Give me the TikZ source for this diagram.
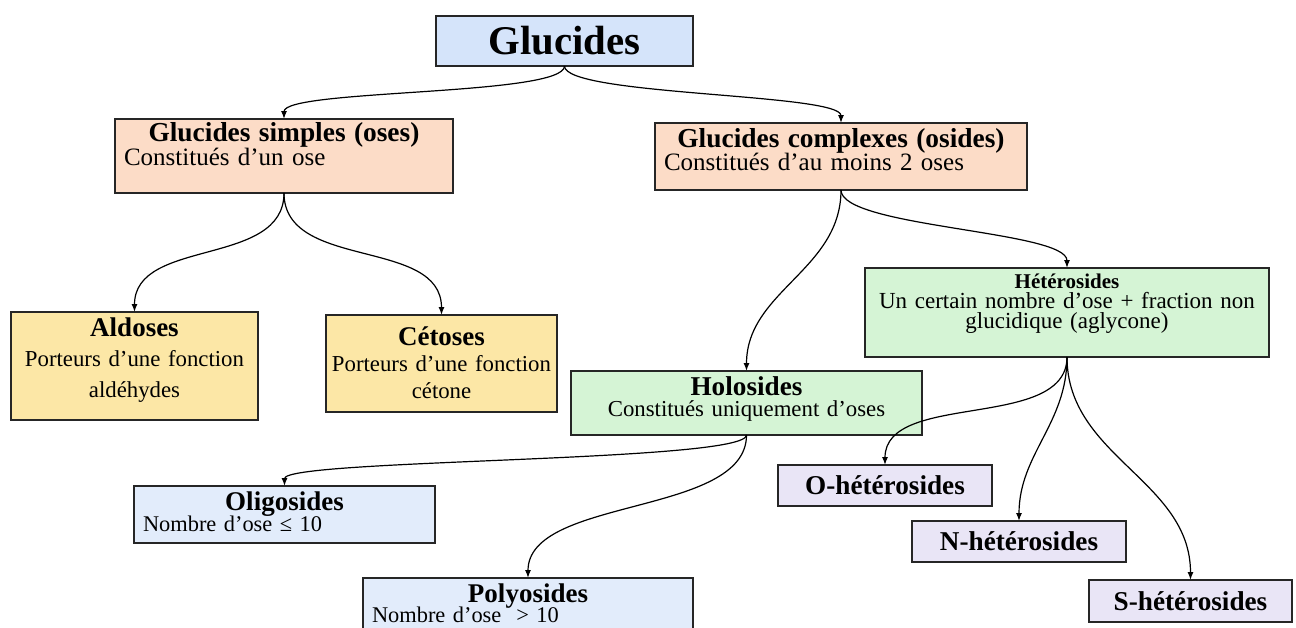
\documentclass[tikz,border=0pt]{standalone}
\usepackage{fontspec}
\setmainfont{Liberation Serif}
\usetikzlibrary{arrows.meta}

\newcommand{\sz}[2]{\fontsize{#1}{#2}\selectfont\lineskiplimit=-20pt\relax}
\newcommand{\ttl}[1]{\makebox[\linewidth]{\bfseries #1}}

\definecolor{topblue}{HTML}{D5E4FA}
\definecolor{peach}{HTML}{FCDCC7}
\definecolor{sand}{HTML}{FCE7A6}
\definecolor{mint}{HTML}{D5F4D5}
\definecolor{iceblue}{HTML}{E2ECFB}
\definecolor{lilac}{HTML}{E9E5F6}

\begin{document}
\begin{tikzpicture}[x=0.5pt, y=-0.5pt,
  box/.style={draw=black!85, line width=0.7pt, anchor=north west, inner xsep=2pt, inner ysep=0pt, outer sep=0pt, align=center},
  lbox/.style={box, inner xsep=4.5pt, align=left},
  link/.style={-{Latex[length=4pt,width=3pt]}, line width=0.6pt, out=-90, in=90}]
\useasboundingbox (0,0) rectangle (1296,627);
\clip (0,0) rectangle (1296,627);

% top
\node[box, fill=topblue, minimum width=128.5pt, minimum height=25pt, font=\sz{20.4}{24}\bfseries] (glu) at (436,16) {Glucides};

% two families
\node[lbox, fill=peach, text width=160pt, text height=11pt, text depth=26pt, font=\sz{12.5}{12.2}] (simple) at (115,119)
  {{\sz{13.7}{12.2}\ttl{Glucides simples (oses)}}\\ Constitués d’un ose};
\node[lbox, fill=peach, text width=177pt, text height=12pt, text depth=21.5pt, font=\sz{12.5}{11.8}] (complex) at (655,123)
  {{\sz{13.7}{11.8}\ttl{Glucides complexes (osides)}}\\ Constitués d’au moins 2 oses};

% oses
\node[box, fill=sand, text width=119.5pt, text height=12pt, text depth=42pt, font=\sz{11.4}{15.25}] (aldo) at (11,312)
  {{\sz{13.5}{15.25}\bfseries Aldoses}\\ Porteurs d’une fonction\\ aldéhydes};
\node[box, fill=sand, text width=111.5pt, text height=15pt, text depth=33.5pt, font=\sz{11.4}{13.25}] (ceto) at (326,315)
  {{\sz{13.5}{13.25}\bfseries Cétoses}\\ Porteurs d’une fonction\\ cétone};

% osides
\node[box, fill=mint, text width=171.5pt, text height=12pt, text depth=20pt, font=\sz{11.4}{10.6}] (holo) at (571,371)
  {{\sz{13.6}{10.6}\bfseries Holosides}\\ Constitués uniquement d’oses};
\node[box, fill=mint, text width=198pt, text height=10pt, text depth=34.5pt, font=\sz{11.5}{10.2}] (hetero) at (865,268)
  {{\sz{10.5}{10.2}\bfseries Hétérosides}\\ Un certain nombre d’ose + fraction non\\ glucidique (aglycone)};

% holosides
\node[lbox, fill=iceblue, text width=141.5pt, text height=12pt, text depth=16.5pt, font=\sz{11.2}{10.5}] (oligo) at (134,486)
  {{\sz{13.5}{10.5}\ttl{Oligosides}}\\ Nombre d’ose ≤ 10};
\node[lbox, fill=iceblue, text width=156pt, text height=12pt, text depth=19pt, font=\sz{11.2}{10.2}] (poly) at (363,578)
  {{\sz{13.5}{10.2}\ttl{Polyosides}}\\ Nombre d’ose~ > 10};

% heterosides
\node[box, fill=lilac, minimum width=107pt, minimum height=20.5pt, font=\sz{13.6}{16}\bfseries] (oh) at (778,465) {O-hétérosides};
\node[box, fill=lilac, minimum width=107pt, minimum height=20.5pt, font=\sz{13.6}{16}\bfseries] (nh) at (912,521) {N-hétérosides};
\node[box, fill=lilac, minimum width=101.5pt, minimum height=21pt, font=\sz{13.6}{16}\bfseries] (sh) at (1089,580) {S-hétérosides};

\draw[link, looseness=0.27] (glu.south) to (simple.north);
\draw[link, looseness=0.27] (glu.south) to (complex.north);
\draw[link] (simple.south) to (aldo.north);
\draw[link] (simple.south) to (ceto.north);
\draw[link] (complex.south) to (holo.north);
\draw[link, looseness=0.4] (complex.south) to (hetero.north);
\draw[link, looseness=0.15] (holo.south) to (oligo.north);
\draw[link, looseness=0.8] (holo.south) to (poly.north);
\draw[link, looseness=0.9] (hetero.south) to (oh.north);
\draw[link] (hetero.south) to (nh.north);
\draw[link] (hetero.south) to (sh.north);
\end{tikzpicture}
\end{document}
